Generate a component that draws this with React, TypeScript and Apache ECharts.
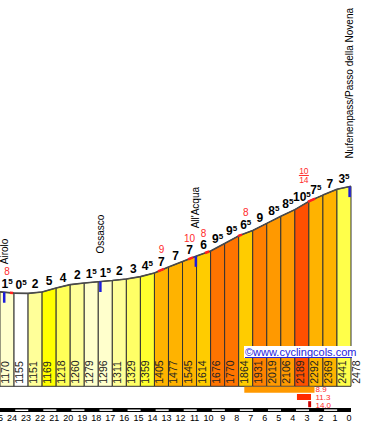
import React, { useEffect, useRef } from "react";
import * as echarts from "echarts";

const TOTAL_KM = 25;
const elevations = [1170, 1155, 1151, 1169, 1218, 1260, 1279, 1296, 1311, 1329, 1359, 1405, 1477, 1545, 1614, 1676, 1770, 1864, 1931, 2019, 2106, 2189, 2292, 2369, 2441, 2478];
const gradeLabels = [1.5, 0.5, 2, 5, 4, 2, 1.5, 1.5, 2, 3, 4.5, 7, 7, 7, 6, 9.5, 9.5, 6.5, 9, 8.5, 8.5, 10.5, 7.5, 7, 3.5];
const steepBars = [0, 11, 13, 14, 17, 21];
const steepTexts = ["8", "9", "10", "8", "8", "10/14"];
const steepFromKm = [24.29, 13.75, 11.6, 10.4, 8.05, 3.06];
const steepToKm = [24.07, 13.32, 11.25, 10.1, 7.76, 2.56];
const placeNames = ["Airolo", "Ossasco", "All'Acqua", "Nufenenpass/Passo della Novena"];
const placeKm = [24.7, 17.85, 11.05, 0.1];
const bestFromKm = [7.6, 3.85, 3.05];
const bestToKm = [2.6, 2.85, 2.84];
const bestGrades = ["8.9", "11.3", "14.0"];

const FONT = "'Liberation Sans', Arial, sans-serif";

function elevAt(km: number) {
  const j = TOTAL_KM - km;
  const i = Math.max(0, Math.min(Math.floor(j), elevations.length - 2));
  const f = j - i;
  return elevations[i] + f * (elevations[i + 1] - elevations[i]);
}

function gradeColor(g: number) {
  const a = Math.abs(g);
  if (a < 1) return "#ffffff";
  if (a < 2) return "#ffffcc";
  if (a < 3) return "#ffff99";
  if (a < 3.5) return "#ffff66";
  if (a < 4) return "#ffff4a";
  if (a < 4.5) return "#ffff58";
  if (a < 5) return "#ffff2e";
  if (a < 6) return "#ffff00";
  if (a < 7) return "#ffcc00";
  if (a < 8) return "#ffb300";
  if (a < 9) return "#ff9900";
  if (a < 9.5) return "#ff8000";
  if (a < 10) return "#ff7400";
  return "#ff5000";
}

function gradeRich(g: number) {
  const a = Math.abs(g);
  const whole = Math.floor(a);
  return a - whole >= 0.5 ? `{b|${whole}}{s|5}` : `{b|${whole}}`;
}

const rich = {
  b: { fontSize: 12, fontWeight: "bold", fontFamily: FONT, fill: "#000", lineHeight: 13 },
  s: { fontSize: 8, fontWeight: "bold", fontFamily: FONT, fill: "#000", lineHeight: 13, verticalAlign: "top" },
};

function buildOption() {
  const barsSeries = {
    type: "custom",
    coordinateSystem: "cartesian2d",
    z: 2,
    clip: false,
    data: gradeLabels.map((g, i) => [TOTAL_KM - i - 0.5, elevations[i]]),
    encode: { x: 0, y: 1 },
    renderItem: (params: any, api: any) => {
      const i = params.dataIndex;
      const k0 = TOTAL_KM - i;
      const k1 = TOTAL_KM - i - 1;
      const b0 = api.coord([k0, 0]);
      const t0 = api.coord([k0, elevations[i]]);
      const t1 = api.coord([k1, elevations[i + 1]]);
      const b1 = api.coord([k1, 0]);
      const children: any[] = [
        {
          type: "polygon",
          shape: { points: [b0, t0, t1, b1] },
          style: { fill: gradeColor(gradeLabels[i]), stroke: "#333", lineWidth: 1 },
        },
        {
          type: "text",
          x: b0[0] + 5,
          y: b0[1] - 2.5,
          rotation: Math.PI / 2,
          style: { text: String(elevations[i]), fontSize: 10.5, fontFamily: FONT, fill: "#222", align: "left", verticalAlign: "middle" },
        },
      ];
      if (i === gradeLabels.length - 1) {
        children.push({
          type: "text",
          x: b1[0] + 4.5,
          y: b1[1] - 2.5,
          rotation: Math.PI / 2,
          style: { text: String(elevations[i + 1]), fontSize: 10.5, fontFamily: FONT, fill: "#222", align: "left", verticalAlign: "middle" },
        });
      }
      return { type: "group", children };
    },
  };

  const profileSeries = {
    type: "line",
    z: 3,
    symbol: "none",
    silent: true,
    data: elevations.map((e, j) => [TOTAL_KM - j, e]),
    lineStyle: { color: "#4a4a4a", width: 1.6 },
  };

  const gradeSeries = {
    type: "custom",
    coordinateSystem: "cartesian2d",
    z: 5,
    clip: false,
    data: gradeLabels.map((g, i) => [TOTAL_KM - i - 0.5, (elevations[i] + elevations[i + 1]) / 2]),
    encode: { x: 0, y: 1 },
    renderItem: (params: any, api: any) => {
      const i = params.dataIndex;
      const p = api.coord([TOTAL_KM - i - 0.5, (elevations[i] + elevations[i + 1]) / 2]);
      return {
        type: "text",
        x: p[0],
        y: p[1] - 8.5,
        style: { text: gradeRich(gradeLabels[i]), rich, align: "center", verticalAlign: "middle" },
      };
    },
  };

  const steepSeries = {
    type: "custom",
    coordinateSystem: "cartesian2d",
    z: 6,
    clip: false,
    data: steepBars.map((b) => [TOTAL_KM - b - 0.5, elevations[b]]),
    encode: { x: 0, y: 1 },
    renderItem: (params: any, api: any) => {
      const n = params.dataIndex;
      const bar = steepBars[n];
      const p = api.coord([TOTAL_KM - bar - 0.5, (elevations[bar] + elevations[bar + 1]) / 2]);
      const cy = p[1] - 8.5;
      const from = steepFromKm[n];
      const to = steepToKm[n];
      const pts: number[][] = [api.coord([from, elevAt(from)])];
      for (let k = Math.floor(from); k > to; k--) {
        if (k < from) pts.push(api.coord([k, elevAt(k)]));
      }
      pts.push(api.coord([to, elevAt(to)]));
      const children: any[] = [
        { type: "polyline", shape: { points: pts }, style: { stroke: "#ff2020", lineWidth: 2.5, fill: null } },
      ];
      const txt = steepTexts[n];
      if (txt.indexOf("/") >= 0) {
        const [num, den] = txt.split("/");
        const fx = p[0] + 2;
        children.push(
          { type: "text", x: fx, y: cy - 26, style: { text: num, fontSize: 8.5, lineHeight: 8, fontFamily: FONT, fill: "#ff2a2a", align: "center", verticalAlign: "middle" } },
          { type: "line", shape: { x1: fx - 5, y1: cy - 21.5, x2: fx + 5, y2: cy - 21.5 }, style: { stroke: "#ff2a2a", lineWidth: 1 } },
          { type: "text", x: fx, y: cy - 16.5, style: { text: den, fontSize: 8.5, lineHeight: 8, fontFamily: FONT, fill: "#ff2a2a", align: "center", verticalAlign: "middle" } }
        );
      } else {
        children.push({
          type: "text",
          x: p[0],
          y: cy - 12,
          style: { text: txt, fontSize: 10, fontFamily: FONT, fill: "#ff2a2a", align: "center", verticalAlign: "middle" },
        });
      }
      return { type: "group", children };
    },
  };

  const placeSeries = {
    type: "custom",
    coordinateSystem: "cartesian2d",
    z: 7,
    clip: false,
    data: placeKm.map((k) => [k, elevAt(k)]),
    encode: { x: 0, y: 1 },
    renderItem: (params: any, api: any) => {
      const n = params.dataIndex;
      const k = placeKm[n];
      const p = api.coord([k, elevAt(k)]);
      return {
        type: "group",
        children: [
          { type: "rect", shape: { x: p[0] - 1.25, y: p[1], width: 2.5, height: 10.5 }, style: { fill: "#1c1cdc" } },
          {
            type: "text",
            x: p[0],
            y: p[1] - 28,
            rotation: Math.PI / 2,
            style: { text: placeNames[n], fontSize: 10, fontFamily: FONT, fill: "#000", align: "left", verticalAlign: "middle" },
          },
        ],
      };
    },
  };

  const bestColors = ["#ff9900", "#ff2a00", "#cc0000"];
  const footerSeries = {
    type: "custom",
    coordinateSystem: "cartesian2d",
    z: 4,
    clip: false,
    data: [[TOTAL_KM / 2, 0]],
    encode: { x: 0, y: 1 },
    renderItem: (params: any, api: any) => {
      const base = api.coord([0, 0])[1];
      const left = api.coord([TOTAL_KM, 0])[0];
      const right = api.coord([0, 0])[0];
      const children: any[] = [
        { type: "rect", shape: { x: left, y: base + 21.7, width: right - left, height: 4 }, style: { fill: "#000" } },
      ];
      for (let k = TOTAL_KM - 1; k >= 1; k -= 2) {
        const x1 = api.coord([k, 0])[0];
        const x2 = api.coord([k - 1, 0])[0];
        children.push({ type: "rect", shape: { x: x1 + 1.2, y: base + 23.1, width: x2 - x1 - 1, height: 1.5 }, style: { fill: "#fff" } });
      }
      let maxRight = 0;
      bestFromKm.forEach((f, n) => {
        const x1 = api.coord([f, 0])[0];
        const x2 = api.coord([bestToKm[n], 0])[0];
        maxRight = Math.max(maxRight, x2);
        children.push({ type: "rect", shape: { x: x1, y: base + 0.5 + n * 7.2, width: x2 - x1, height: 6 }, style: { fill: bestColors[n] } });
      });
      bestGrades.forEach((g, n) => {
        children.push({
          type: "text",
          x: maxRight + 1,
          y: base + 10.8 + (n - 1) * 8,
          style: { text: g, fontSize: 8, lineHeight: 7.5, fontFamily: FONT, fill: "#ff2a2a", align: "left", verticalAlign: "middle" },
        });
      });
      return { type: "group", children };
    },
  };

  return {
    animation: false,
    backgroundColor: "#fff",
    grid: { left: 0, right: 14, top: 66.3, bottom: 38.7, containLabel: false, outerBoundsMode: "none" },
    xAxis: {
      type: "value",
      min: 0,
      max: TOTAL_KM,
      interval: 1,
      inverse: true,
      axisLine: { show: false },
      axisTick: { show: false },
      splitLine: { show: false },
      axisLabel: { fontSize: 9, fontFamily: FONT, color: "#000", margin: 27, padding: [0, 4, 0, 0], hideOverlap: false },
    },
    yAxis: {
      type: "value",
      min: 0,
      max: 3965,
      show: false,
      splitLine: { show: false },
    },
    graphic: [
      { type: "rect", shape: { x: 244, y: 346, width: 109, height: 12 }, style: { fill: "#fff" }, z: 20 },
      {
        type: "text",
        x: 245,
        y: 352,
        style: { text: "©www.cyclingcols.com", fontSize: 11, fontFamily: FONT, fill: "#2323dd", align: "left", verticalAlign: "middle" },
        z: 21,
      },
      { type: "line", shape: { x1: 245, y1: 357.5, x2: 352, y2: 357.5 }, style: { stroke: "#2323dd", lineWidth: 1 }, z: 21 },
    ],
    series: [barsSeries, profileSeries, gradeSeries, steepSeries, placeSeries, footerSeries],
  };
}

export default function App() {
  const ref = useRef<HTMLDivElement>(null);
  useEffect(() => {
    const chart = echarts.init(ref.current as HTMLDivElement, null, { renderer: "svg" });
    chart.setOption(buildOption() as any);
    return () => chart.dispose();
  }, []);
  return (
    <div
      ref={ref}
      style={{ position: "fixed", left: 0, top: 0, width: 365, height: 425, background: "#fff" }}
    />
  );
}
